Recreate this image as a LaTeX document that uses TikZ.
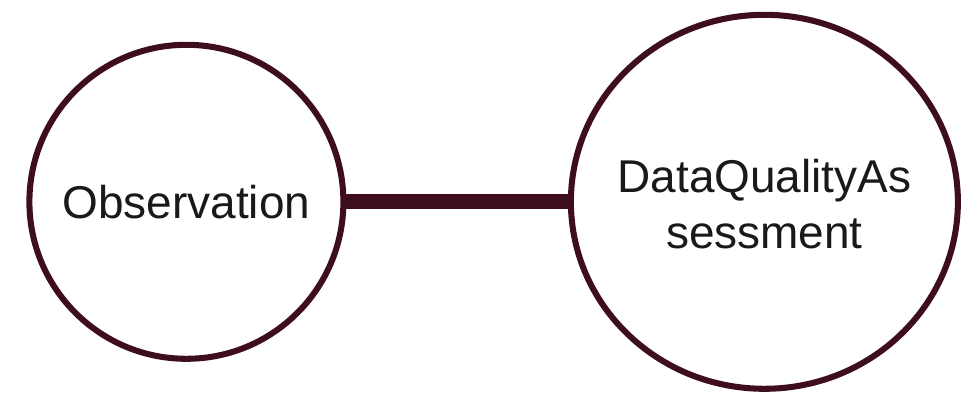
\documentclass[tikz,border=0pt]{standalone}
\usepackage{fontspec}
\setmainfont{Liberation Sans}
\usetikzlibrary{shapes.geometric}
\definecolor{ringcol}{RGB}{62,14,32}
\definecolor{textcol}{RGB}{28,24,26}
\tikzset{
	entity/.style={ellipse, draw=ringcol, line width=4.3pt, inner sep=0pt, outer sep=0pt},
	entitytext/.style={text=textcol, align=center, inner sep=0pt,
		font=\fontsize{32.7pt}{39.8pt}\selectfont},
	link/.style={draw=ringcol, line width=10.5pt}
}
\begin{document}
\begin{tikzpicture}[line join=round]
	\useasboundingbox (0,0) rectangle (24.35,9.875);
	
	\node[entity, minimum width=7.85cm, minimum height=7.85cm] (obs) at (4.66,4.83) {};
	\node[entitytext] (obstext) at (obs.center) {Observation};
	
	\node[entity, minimum width=9.675cm, minimum height=9.35cm] (dqa) at (19.11,4.83) {};
	\node[entitytext] (dqatext) at ([yshift=-0.05cm]dqa.center) {DataQualityAs\\sessment};
	
	\draw[link] (obs.east) -- (dqa.west);
\end{tikzpicture}
\end{document}
